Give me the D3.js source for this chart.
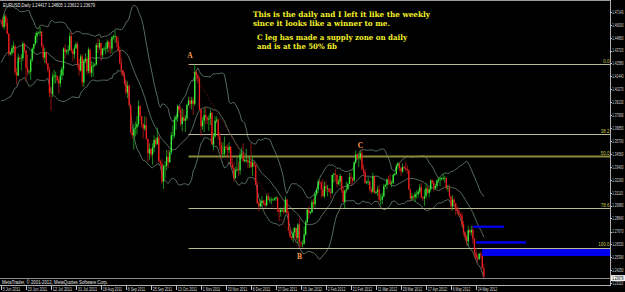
<!DOCTYPE html>
<html>
<head>
<meta charset="utf-8">
<script src="https://cdn.jsdelivr.net/npm/d3@7"></script>
<style>
html, body { margin: 0; padding: 0; background: #000; overflow: hidden; }
</style>
</head>
<body>
<div id="chart"></div>
<script>
// EURUSD, Daily - Jun 2011 .. May 2012, one bar per day (Sun..Fri weeks)

var tickLabels = ["5 Jun 2011", "23 Jun 2011", "12 Jul 2011", "31 Jul 2011", "18 Aug 2011", "6 Sep 2011",
	"25 Sep 2011", "13 Oct 2011", "1 Nov 2011", "20 Nov 2011", "8 Dec 2011", "27 Dec 2011", "15 Jan 2012",
	"2 Feb 2012", "21 Feb 2012", "11 Mar 2012", "29 Mar 2012", "17 Apr 2012", "6 May 2012", "24 May 2012"];

var priceTicks = [1.47140, 1.46000, 1.44860, 1.43720, 1.42580, 1.41440, 1.40270, 1.39130, 1.37990, 1.36850,
	1.35700, 1.34560, 1.33400, 1.32260, 1.31110, 1.29980, 1.28840, 1.27670, 1.26530, 1.25390, 1.24250, 1.23110];

// closes of the 19 bars before the first visible one (needed by the bands)
var priorCloses = [1.4126, 1.4120, 1.4155, 1.4237, 1.4225, 1.4315, 1.4155, 1.4130, 1.4055, 1.4113,
	1.4098, 1.4125, 1.4305, 1.4300, 1.4300, 1.4395, 1.4375, 1.4510, 1.4640];

var highs = [
	1.4650,1.4665,1.4695,1.4695,1.4660,1.4530, 1.4360,1.4420,1.4450,1.4430,1.4220,1.4345,
	1.4320,1.4340,1.4450,1.4440,1.4375,1.4335, 1.4200,1.4300,1.4400,1.4435,1.4530,1.4545,
	1.4540,1.4580,1.4545,1.4435,1.4395,1.4355, 1.4240,1.4230,1.4050,1.4170,1.4200,1.4185,
	1.4140,1.4130,1.4200,1.4230,1.4400,1.4430, 1.4380,1.4420,1.4530,1.4540,1.4390,1.4420,
	1.4450,1.4450,1.4300,1.4340,1.4340,1.4300, 1.4350,1.4320,1.4400,1.4390,1.4280,1.4270,
	1.4260,1.4440,1.4480,1.4470,1.4440,1.4395, 1.4410,1.4440,1.4470,1.4460,1.4475,1.4500,
	1.4510,1.4550,1.4500,1.4490,1.4410,1.4310, 1.4200,1.4180,1.4110,1.4100,1.4070,1.3890,
	1.3660,1.3720,1.3740,1.3790,1.3930,1.3890, 1.3780,1.3730,1.3790,1.3780,1.3590,1.3550,
	1.3510,1.3550,1.3620,1.3600,1.3690,1.3620, 1.3400,1.3410,1.3360,1.3390,1.3490,1.3490,
	1.3490,1.3650,1.3710,1.3790,1.3800,1.3890, 1.3880,1.3880,1.3860,1.3850,1.3800,1.3900,
	1.3960,1.3960,1.3960,1.3960,1.4247,1.4200, 1.4170,1.4140,1.3860,1.3780,1.3860,1.3870,
	1.3790,1.3800,1.3850,1.3830,1.3640,1.3790, 1.3790,1.3770,1.3650,1.3560,1.3560,1.3610,
	1.3530,1.3540,1.3560,1.3520,1.3420,1.3380, 1.3340,1.3420,1.3390,1.3480,1.3510,1.3550,
	1.3420,1.3500,1.3440,1.3440,1.3550,1.3440, 1.3380,1.3360,1.3210,1.3040,1.3050,1.3080,
	1.3050,1.3050,1.3100,1.3110,1.3080,1.3070, 1.3060,1.3070,1.3080,1.3070,1.2970,1.2980,
	1.2970,1.2990,1.3080,1.3060,1.2950,1.2800, 1.2730,1.2800,1.2810,1.2800,1.2840,1.2880,
	1.2680,1.2690,1.2810,1.2870,1.2970,1.2990, 1.2950,1.3050,1.3060,1.3120,1.3150,1.3230,
	1.3220,1.3210,1.3230,1.3210,1.3210,1.3180, 1.3140,1.3150,1.3270,1.3290,1.3320,1.3270,
	1.3230,1.3280,1.3250,1.3170,1.3140,1.3210, 1.3200,1.3290,1.3290,1.3250,1.3390,1.3486,
	1.3460,1.3460,1.3480,1.3487,1.3360,1.3320, 1.3220,1.3250,1.3220,1.3160,1.3290,1.3260,
	1.3130,1.3170,1.3180,1.3100,1.3110,1.3190, 1.3190,1.3240,1.3260,1.3280,1.3220,1.3280,
	1.3290,1.3370,1.3385,1.3370,1.3340,1.3370, 1.3350,1.3385,1.3360,1.3320,1.3150,1.3110,
	1.3090,1.3120,1.3130,1.3140,1.3190,1.3200, 1.3080,1.3140,1.3190,1.3170,1.3160,1.3230,
	1.3230,1.3220,1.3190,1.3230,1.3250,1.3250, 1.3250,1.3280,1.3260,1.3250,1.3180,1.3180,
	1.3000,1.3090,1.3070,1.3020,1.2990,1.2980, 1.2930,1.2940,1.2860,1.2770,1.2740,1.2820,
	1.2790,1.2820,1.2820,1.2710,1.2620,1.2560, 1.2580,1.2590,1.2570,1.2481
];

var lows = [
	1.4620,1.4580,1.4560,1.4590,1.4530,1.4320, 1.4330,1.4330,1.4350,1.4150,1.4070,1.4150,
	1.4270,1.4195,1.4280,1.4350,1.4100,1.4150, 1.4160,1.4110,1.4270,1.4350,1.4415,1.4440,
	1.4520,1.4500,1.4400,1.4285,1.4260,1.4245, 1.4180,1.3960,1.3837,1.3960,1.4080,1.4080,
	1.4090,1.3990,1.4050,1.4110,1.4150,1.4300, 1.4340,1.4330,1.4370,1.4350,1.4275,1.4300,
	1.4390,1.4220,1.4150,1.4185,1.4055,1.4050, 1.4260,1.4160,1.4170,1.4150,1.4135,1.4140,
	1.4230,1.4240,1.4350,1.4380,1.4280,1.4305, 1.4370,1.4340,1.4360,1.4350,1.4340,1.4350,
	1.4470,1.4440,1.4400,1.4360,1.4250,1.4150, 1.4140,1.4060,1.3980,1.3950,1.3880,1.3630,
	1.3590,1.3495,1.3610,1.3630,1.3700,1.3750, 1.3690,1.3590,1.3660,1.3580,1.3385,1.3400,
	1.3420,1.3360,1.3470,1.3520,1.3550,1.3380, 1.3350,1.3190,1.3145,1.3240,1.3310,1.3330,
	1.3380,1.3450,1.3580,1.3600,1.3670,1.3740, 1.3820,1.3700,1.3655,1.3740,1.3650,1.3750,
	1.3880,1.3860,1.3850,1.3800,1.3880,1.4100, 1.4080,1.3840,1.3610,1.3670,1.3650,1.3720,
	1.3720,1.3660,1.3710,1.3540,1.3490,1.3600, 1.3730,1.3580,1.3490,1.3420,1.3420,1.3440,
	1.3490,1.3420,1.3460,1.3360,1.3320,1.3210, 1.3270,1.3300,1.3260,1.3270,1.3410,1.3390,
	1.3380,1.3380,1.3330,1.3330,1.3330,1.3260, 1.3340,1.3180,1.3010,1.2945,1.2980,1.2990,
	1.3000,1.2980,1.2990,1.3040,1.3020,1.3010, 1.3040,1.3040,1.3040,1.2940,1.2858,1.2900,
	1.2940,1.2920,1.2930,1.2920,1.2770,1.2710, 1.2690,1.2670,1.2720,1.2690,1.2660,1.2624,
	1.2630,1.2625,1.2650,1.2730,1.2840,1.2880, 1.2920,1.2930,1.2970,1.2980,1.3080,1.3110,
	1.3180,1.3070,1.3080,1.3060,1.3120,1.3080, 1.3110,1.3060,1.3100,1.3200,1.3210,1.3160,
	1.3180,1.3170,1.3110,1.3030,1.2975,1.3110, 1.3140,1.3190,1.3180,1.3190,1.3210,1.3370,
	1.3400,1.3340,1.3400,1.3310,1.3270,1.3190, 1.3190,1.3180,1.3125,1.3100,1.3110,1.3100,
	1.3100,1.3080,1.3030,1.3000,1.3010,1.3070, 1.3160,1.3140,1.3180,1.3180,1.3160,1.3190,
	1.3260,1.3270,1.3320,1.3300,1.3260,1.3290, 1.3320,1.3300,1.3280,1.3140,1.3030,1.3040,
	1.3050,1.3030,1.3060,1.3070,1.3100,1.3060, 1.3040,1.2995,1.3060,1.3100,1.3070,1.3120,
	1.3190,1.3120,1.3140,1.3150,1.3200,1.3170, 1.3220,1.3220,1.3200,1.3140,1.3120,1.3060,
	1.2955,1.2955,1.2990,1.2910,1.2920,1.2900, 1.2890,1.2810,1.2730,1.2690,1.2640,1.2640,
	1.2740,1.2730,1.2660,1.2545,1.2515,1.2495, 1.2530,1.2530,1.2440,1.2361
];

var closes = [
	1.4635,1.4580,1.4675,1.4620,1.4520,1.4340, 1.4350,1.4395,1.4410,1.4180,1.4150,1.4310,
	1.4300,1.4305,1.4435,1.4375,1.4220,1.4180, 1.4185,1.4290,1.4390,1.4430,1.4500,1.4530,
	1.4530,1.4540,1.4410,1.4310,1.4360,1.4260, 1.4200,1.3995,1.3990,1.4140,1.4150,1.4150,
	1.4110,1.4080,1.4150,1.4210,1.4390,1.4360, 1.4370,1.4380,1.4500,1.4370,1.4340,1.4390,
	1.4430,1.4245,1.4195,1.4320,1.4090,1.4280, 1.4300,1.4190,1.4380,1.4175,1.4230,1.4240,
	1.4250,1.4420,1.4400,1.4440,1.4330,1.4390, 1.4390,1.4390,1.4450,1.4400,1.4390,1.4490,
	1.4500,1.4500,1.4450,1.4375,1.4260,1.4200, 1.4160,1.4080,1.4000,1.4060,1.3890,1.3650,
	1.3620,1.3680,1.3690,1.3720,1.3880,1.3790, 1.3720,1.3680,1.3710,1.3590,1.3460,1.3500,
	1.3450,1.3510,1.3580,1.3540,1.3600,1.3390, 1.3370,1.3210,1.3350,1.3350,1.3430,1.3380,
	1.3470,1.3620,1.3620,1.3760,1.3780,1.3880, 1.3850,1.3720,1.3780,1.3750,1.3770,1.3890,
	1.3930,1.3900,1.3930,1.3900,1.4180,1.4150, 1.4120,1.3850,1.3700,1.3750,1.3800,1.3780,
	1.3760,1.3770,1.3820,1.3540,1.3610,1.3750, 1.3760,1.3610,1.3530,1.3460,1.3460,1.3520,
	1.3510,1.3490,1.3520,1.3360,1.3330,1.3240, 1.3310,1.3320,1.3310,1.3450,1.3460,1.3390,
	1.3400,1.3400,1.3380,1.3390,1.3340,1.3380, 1.3360,1.3180,1.3020,1.2990,1.3020,1.3040,
	1.3020,1.3000,1.3080,1.3050,1.3050,1.3050, 1.3050,1.3060,1.3070,1.2960,1.2940,1.2960,
	1.2960,1.2940,1.3050,1.2930,1.2780,1.2720, 1.2710,1.2760,1.2800,1.2710,1.2830,1.2670,
	1.2660,1.2660,1.2740,1.2850,1.2960,1.2930, 1.2940,1.3030,1.3010,1.3100,1.3140,1.3210,
	1.3200,1.3140,1.3080,1.3170,1.3150,1.3150, 1.3120,1.3110,1.3270,1.3280,1.3270,1.3190,
	1.3210,1.3260,1.3130,1.3030,1.3130,1.3140, 1.3190,1.3250,1.3240,1.3220,1.3380,1.3450,
	1.3420,1.3420,1.3460,1.3320,1.3300,1.3200, 1.3210,1.3210,1.3140,1.3120,1.3260,1.3110,
	1.3120,1.3140,1.3050,1.3050,1.3080,1.3170, 1.3180,1.3230,1.3220,1.3190,1.3200,1.3270,
	1.3280,1.3350,1.3370,1.3330,1.3300,1.3340, 1.3330,1.3320,1.3310,1.3140,1.3060,1.3080,
	1.3070,1.3100,1.3100,1.3120,1.3160,1.3070, 1.3060,1.3080,1.3150,1.3110,1.3140,1.3220,
	1.3200,1.3150,1.3170,1.3220,1.3230,1.3240, 1.3240,1.3240,1.3240,1.3150,1.3150,1.3080,
	1.2990,1.3050,1.3020,1.2960,1.2950,1.2920, 1.2910,1.2830,1.2760,1.2720,1.2680,1.2780,
	1.2760,1.2780,1.2700,1.2580,1.2530,1.2520, 1.2570,1.2560,1.2442,1.2368
];

// fibo retracement drawn from A (high) to B (low)
var fibHigh = 1.4250, fibLow = 1.2624;
var fibStart = 120, fibEnd = 190;
var fibLevels = [0, 38.2, 50, 78.6, 100];
var fibNames = ["0.0", "38.2", "50.0", "78.6", "100.0"];

var pivotNames = ["A", "B", "C"];
var pivotIndex = [121, 191, 230];
var pivotPrice = [1.4250, 1.2624, 1.3487];

// supply zones (price top, price bottom, first bar, last bar)
var zoneTop = [1.2820, 1.2682, 1.2612];
var zoneBottom = [1.2800, 1.2660, 1.2550];
var zoneFrom = [302, 304, 308];
var zoneTo = [322, 336, 400];

var notes = ["This is the daily and I left it like the weekly", "since it looks like a winner to me.",
	"C leg has made a supply zone on daily", "and is at the 50% fib"];

var header = "EURUSD,Daily  1.24417 1.24805 1.23612 1.23679";
var lastPrice = 1.23679;


var W = 625, H = 292;
var RIGHT = 610, BOTTOM = 285;
var BAND_PERIOD = 20, BAND_DEV = 2;
var SMALL = "Liberation Sans, Arial, sans-serif";

var svg = d3.select("#chart").append("svg")
	.attr("width", W)
	.attr("height", H)
	.style("background", "#000")
	.style("display", "block");

var x = d3.scaleLinear().domain([0, 390]).range([1, 610.4]);
var y = d3.scaleLinear().domain([1.4714, 1.2311]).range([12, 283]);

svg.append("clipPath").attr("id", "plot")
	.append("rect").attr("x", 0).attr("y", 1).attr("width", RIGHT).attr("height", BOTTOM - 1);

var plot = svg.append("g").attr("clip-path", "url(#plot)");

//BOLLINGER BANDS
var all = priorCloses.concat(closes);
var bands = closes.map(function(c, i){
	var win = all.slice(i + priorCloses.length + 1 - BAND_PERIOD, i + priorCloses.length + 1);
	var m = d3.mean(win);
	var sd = Math.sqrt(d3.mean(win, function(v){ return (v - m) * (v - m); }));
	return {i: i, mid: m, up: m + BAND_DEV * sd, dn: m - BAND_DEV * sd};
});

["up", "mid", "dn"].forEach(function(k){
	plot.append("path")
		.datum(bands)
		.attr("fill", "none")
		.attr("stroke", "#6a8574")
		.attr("stroke-width", 0.8)
		.attr("d", d3.line().x(function(d){ return x(d.i); }).y(function(d){ return y(d[k]); }));
});

//FIBO LINES
var fib = fibLevels.map(function(l, i){
	return {price: fibHigh - (fibHigh - fibLow) * l / 100, name: fibNames[i], level: l};
});

plot.selectAll("line.fib").data(fib).enter().append("line")
	.attr("x1", x(fibStart)).attr("x2", RIGHT)
	.attr("y1", function(d){ return Math.round(y(d.price)) + 0.5; })
	.attr("y2", function(d){ return Math.round(y(d.price)) + 0.5; })
	.attr("stroke", function(d){ return d.level == 50 ? "#8a8a3a" : "#b9b994"; })
	.attr("stroke-width", function(d){ return d.level == 50 ? 2 : 1; });

plot.selectAll("text.fib").data(fib).enter().append("text")
	.attr("x", RIGHT - 0.5)
	.attr("y", function(d){ return y(d.price) - 1.5; })
	.attr("text-anchor", "end")
	.attr("font-family", SMALL)
	.attr("font-size", 4.5)
	.attr("fill", "#c8c850")
	.text(function(d){ return d.name; });

plot.append("line")
	.attr("x1", x(fibStart)).attr("y1", y(fibHigh))
	.attr("x2", x(fibEnd)).attr("y2", y(fibLow))
	.attr("stroke", "#b02020")
	.attr("stroke-width", 0.8)
	.attr("stroke-dasharray", "1,2");

//BID LINE
plot.append("line")
	.attr("x1", 0).attr("x2", RIGHT)
	.attr("y1", Math.round(y(lastPrice)) + 1.5).attr("y2", Math.round(y(lastPrice)) + 1.5)
	.attr("stroke", "#8a8a8a").attr("stroke-width", 1);

//CANDLES
var bars = closes.map(function(c, i){
	var o = i ? closes[i - 1] : priorCloses[priorCloses.length - 1];
	return {i: i, o: o, c: c, h: Math.max(highs[i], o, c), l: Math.min(lows[i], o, c)};
});

var candle = plot.selectAll("g.bar").data(bars).enter().append("g");

candle.append("line")
	.attr("x1", function(d){ return x(d.i); })
	.attr("x2", function(d){ return x(d.i); })
	.attr("y1", function(d){ return y(d.h); })
	.attr("y2", function(d){ return y(d.l); })
	.attr("stroke", function(d){ return d.c >= d.o ? "#27c827" : "#c81e1e"; })
	.attr("stroke-width", 0.7);

candle.append("rect")
	.attr("x", function(d){ return x(d.i) - 0.65; })
	.attr("width", 1.3)
	.attr("y", function(d){ return y(Math.max(d.o, d.c)); })
	.attr("height", function(d){ return Math.max(0.6, Math.abs(y(d.o) - y(d.c))); })
	.attr("fill", function(d){ return d.c >= d.o ? "#3cf03c" : "#f01e1e"; });

//SUPPLY ZONES
plot.selectAll("rect.zone").data(zoneTop).enter().append("rect")
	.attr("x", function(d, i){ return x(zoneFrom[i]); })
	.attr("width", function(d, i){ return x(zoneTo[i]) - x(zoneFrom[i]); })
	.attr("y", function(d){ return y(d); })
	.attr("height", function(d, i){ return y(zoneBottom[i]) - y(d); })
	.attr("fill", "#0000f0");

//PIVOT LABELS
var pivotOffset = {A: -6, B: 11, C: -2};
plot.selectAll("text.pivot").data(pivotNames).enter().append("text")
	.attr("x", function(d, i){ return x(pivotIndex[i]); })
	.attr("y", function(d, i){ return y(pivotPrice[i]) + pivotOffset[d]; })
	.attr("text-anchor", "middle")
	.attr("font-family", "Liberation Serif, serif")
	.attr("font-weight", "bold")
	.attr("font-size", 7.5)
	.attr("fill", "#ff9850")
	.text(function(d){ return d; });

//NOTES
var noteX = [253, 253, 257, 257], noteY = [17, 26, 39.5, 48.5], noteLen = [177, 137, 150, 80];
svg.selectAll("text.note").data(notes).enter().append("text")
	.attr("x", function(d, i){ return noteX[i]; })
	.attr("y", function(d, i){ return noteY[i]; })
	.attr("textLength", function(d, i){ return noteLen[i]; })
	.attr("lengthAdjust", "spacingAndGlyphs")
	.attr("font-family", "DejaVu Serif, serif")
	.attr("font-weight", "bold")
	.attr("font-size", 7.5)
	.attr("fill", "#f4f028")
	.text(function(d){ return d; });

//FRAME
svg.append("line").attr("x1", 0).attr("x2", RIGHT).attr("y1", 0.5).attr("y2", 0.5).attr("stroke", "#9a9a9a");
svg.append("line").attr("x1", RIGHT + 0.5).attr("x2", RIGHT + 0.5).attr("y1", 0).attr("y2", BOTTOM).attr("stroke", "#b0b0b0");
svg.append("line").attr("x1", 0).attr("x2", RIGHT + 1).attr("y1", BOTTOM + 0.5).attr("y2", BOTTOM + 0.5).attr("stroke", "#b0b0b0");

//PRICE AXIS (labels squeezed horizontally, as in the terminal)
var pa = svg.append("g");
pa.selectAll("line").data(priceTicks).enter().append("line")
	.attr("x1", RIGHT).attr("x2", RIGHT + 2)
	.attr("y1", function(d){ return Math.round(y(d)) + 0.5; })
	.attr("y2", function(d){ return Math.round(y(d)) + 0.5; })
	.attr("stroke", "#c0c0c0");
pa.selectAll("text").data(priceTicks).enter().append("text")
	.attr("transform", function(d){ return "translate(" + (RIGHT + 2.3) + "," + (y(d) + 1.8) + ") scale(0.64,1)"; })
	.attr("font-family", SMALL)
	.attr("font-size", 4.8)
	.attr("fill", "#d8d8d8")
	.text(function(d){ return d.toFixed(5); });

pa.append("rect")
	.attr("x", RIGHT + 1).attr("y", y(lastPrice) - 1.5)
	.attr("width", W - RIGHT - 1).attr("height", 6)
	.attr("fill", "#f0f0f0");
pa.append("text")
	.attr("transform", "translate(" + (RIGHT + 2.3) + "," + (y(lastPrice) + 3.2) + ") scale(0.64,1)")
	.attr("font-family", SMALL)
	.attr("font-size", 4.8)
	.attr("fill", "#000")
	.text(lastPrice.toFixed(5));

//DATE AXIS
var da = svg.append("g");
da.selectAll("line").data(tickLabels).enter().append("line")
	.attr("x1", function(d, k){ return Math.round(x(k * 16)) + 0.5; })
	.attr("x2", function(d, k){ return Math.round(x(k * 16)) + 0.5; })
	.attr("y1", BOTTOM).attr("y2", BOTTOM + 5)
	.attr("stroke", "#c0c0c0");
da.selectAll("text").data(tickLabels).enter().append("text")
	.attr("x", function(d, k){ return x(k * 16) + 1.8; })
	.attr("y", 290.5)
	.attr("textLength", function(d){ return d.length * 1.75; })
	.attr("lengthAdjust", "spacingAndGlyphs")
	.attr("font-family", SMALL)
	.attr("font-size", 4.6)
	.attr("fill", "#d8d8d8")
	.text(function(d){ return d; });

//HEADER AND COPYRIGHT
svg.append("text")
	.attr("x", 3).attr("y", 6.5)
	.attr("textLength", 92).attr("lengthAdjust", "spacingAndGlyphs")
	.attr("font-family", SMALL)
	.attr("font-size", 5.5)
	.attr("fill", "#e8e8e8")
	.text(header);

svg.append("text")
	.attr("x", 2).attr("y", 284)
	.attr("textLength", 106).attr("lengthAdjust", "spacingAndGlyphs")
	.attr("font-family", SMALL)
	.attr("font-size", 5)
	.attr("fill", "#e0e0e0")
	.text("MetaTrader, \u00a9 2001-2012, MetaQuotes Software Corp.");
</script>
</body>
</html>
